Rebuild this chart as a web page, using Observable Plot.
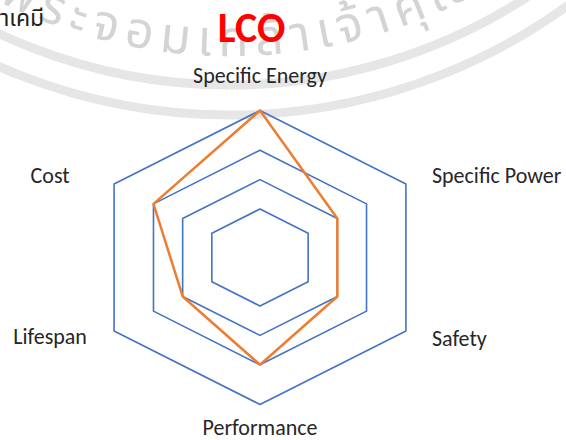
<!DOCTYPE html>
<html>
<head>
<meta charset="utf-8">
<script src="https://cdn.jsdelivr.net/npm/d3@7"></script>
<script src="https://cdn.jsdelivr.net/npm/@observablehq/plot@0.6"></script>
<style>
  html, body { margin: 0; padding: 0; background: #fff; }
  #chart { position: relative; width: 566px; height: 440px; overflow: hidden; }
  #chart svg { display: block; }
  .corner { position: absolute; left: 0; top: 2px; font: 23px "Noto Sans Thai", "Noto Sans", "DejaVu Sans", sans-serif; color: #222; z-index: 2; }
</style>
</head>
<body>
<div id="chart"><div class="corner">าเคมี</div></div>
<script>
// ---- data ----
const title = "LCO";
const axes = ["Specific Energy", "Specific Power", "Safety", "Performance", "Lifespan", "Cost"];
const values = [4, 2, 2, 3, 2, 3];
const levels = [1, 2, 3, 4];
const watermark = "พระจอมเกล้าเจ้าคุณทหาร";

// ---- geometry helpers ----
const n = axes.length;
const angle = i => (i * 2 * Math.PI) / n;           // clockwise from top
const radius = d3.scaleLinear([0, 1, 2, 3, 4], [0, 0.33, 0.53, 0.73, 1]); // ring spacing of the original
const pt = (level, i) => ({ x: radius(level) * Math.sin(angle(i)), y: radius(level) * Math.cos(angle(i)) });

const rings = levels.flatMap(level =>
  d3.range(n + 1).map(i => ({ level, ...pt(level, i % n) }))
);
const series = d3.range(n + 1).map(i => ({ axis: axes[i % n], ...pt(values[i % n], i % n) }));
const labels = axes.map((name, i) => {
  const p = pt(d3.max(levels), i);
  const s = Math.round(Math.sin(angle(i)) * 100) / 100;
  const c = Math.round(Math.cos(angle(i)) * 100) / 100;
  let anchor = "middle", dx = 0, dy = 0;
  if (s > 0) { anchor = "start"; dx = 26; dy = c > 0 ? -8.5 : 7.5; }
  else if (s < 0) { anchor = "middle"; dx = -64; dy = c > 0 ? -8.5 : 5.5; }
  else { dy = c > 0 ? -35 : 23; }
  return { name, ...p, anchor, dx, dy };
});

const font = "Carlito, Calibri, 'Open Sans', sans-serif";

const chart = Plot.plot({
  width: 566,
  height: 440,
  margin: 0,
  x: { domain: [-1, 1], range: [91, 428], axis: null },
  y: { domain: [-1, 1], range: [404, 110], axis: null },
  style: { fontFamily: font, background: "transparent" },
  marks: [
    Plot.line(rings, { x: "x", y: "y", z: "level", stroke: "#4472C4", strokeWidth: 1.6, curve: "linear-closed" }),
    Plot.line(series, { x: "x", y: "y", stroke: "#ED7D31", strokeWidth: 2.5, strokeLinejoin: "miter" }),
    ...labels.map(l => Plot.text([l], {
      x: "x", y: "y", text: "name", textAnchor: l.anchor, dx: l.dx, dy: l.dy,
      fontSize: 22, fill: "#262626"
    })),
    Plot.text([title], { frameAnchor: "top", lineAnchor: "middle", dx: -32, dy: 28, fontSize: 42, fontWeight: "bold", fill: "#FF0000" })
  ]
});

// faint watermark seal behind the chart
const svg = d3.select(chart);
const wm = svg.insert("g", ":first-child").attr("fill", "none");
const cx = 230, cy = -460;
[545, 575].forEach(r => wm.append("circle").attr("cx", cx).attr("cy", cy).attr("r", r)
  .attr("stroke", "#e6e6e6").attr("stroke-width", 9));
const rt = 516;
wm.append("path").attr("id", "wmpath")
  .attr("d", `M${cx - rt},${cy} A${rt},${rt} 0 0 0 ${cx + rt},${cy}`);
wm.append("text").attr("fill", "#d4d4d4").attr("font-size", 50).attr("text-anchor", "start")
  .attr("font-family", "'Noto Sans Thai', 'Noto Sans', sans-serif").attr("letter-spacing", 7.5)
  .append("textPath").attr("href", "#wmpath").attr("startOffset", 570).text(watermark);

document.getElementById("chart").appendChild(chart);
</script>
</body>
</html>
